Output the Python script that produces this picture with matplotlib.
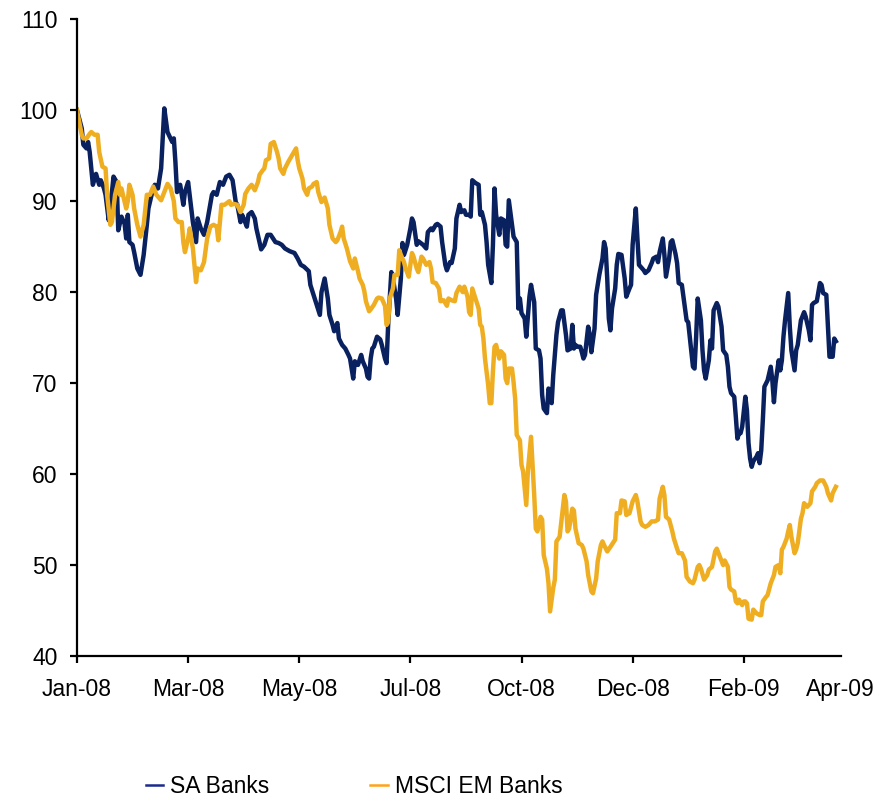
import matplotlib
matplotlib.use("Agg")
import matplotlib.pyplot as plt
from matplotlib.lines import Line2D
import pandas as pd

# Index levels rebased to 100 on 1 Jan 2008; dates given as days since that start
start = pd.Timestamp("2008-01-01")

sa_days = [0, 3, 4, 6, 7, 8, 10, 12, 14, 15, 17, 18, 20, 21, 23, 25, 26, 28, 30, 31,
           32, 33, 35, 36, 38, 40, 42, 44, 45, 47, 49, 51, 53, 55, 57, 60, 61, 62, 63, 65,
           67, 68, 70, 72, 73, 75, 76, 78, 80, 82, 85, 86, 88, 90, 92, 94, 96, 98, 100, 101,
           103, 104, 105, 107, 108, 110, 112, 113, 115, 116, 118, 120, 122, 125, 127, 129, 131, 134, 137, 139,
           141, 143, 146, 147, 149, 151, 153, 154, 156, 158, 159, 161, 162, 164, 165, 167, 169, 171, 172, 174,
           175, 177, 179, 180, 182, 183, 184, 185, 186, 187, 189, 191, 192, 194, 195, 196, 198, 199, 201, 202,
           204, 205, 206, 208, 210, 211, 212, 214, 215, 218, 220, 221, 223, 224, 226, 227, 229, 230, 232, 233,
           235, 236, 238, 239, 241, 242, 244, 245, 247, 248, 249, 251, 253, 254, 255, 257, 258, 259, 261, 262,
           263, 264, 266, 267, 269, 270, 271, 272, 274, 275, 277, 278, 279, 280, 282, 283, 285, 286, 288, 289,
           291, 292, 293, 294, 296, 297, 298, 299, 300, 302, 303, 305, 306, 308, 309, 311, 312, 313, 314, 315,
           317, 318, 319, 320, 322, 323, 324, 326, 327, 329, 331, 332, 333, 334, 335, 336, 337, 339, 340, 341,
           343, 345, 346, 348, 349, 350, 352, 353, 354, 355, 357, 358, 360, 362, 363, 365, 366, 367, 369, 370,
           371, 373, 374, 375, 377, 378, 379, 381, 384, 385, 386, 388, 389, 390, 391, 393, 394, 395, 396, 398,
           399, 400, 401, 403, 404, 406, 407, 409, 410, 411, 412, 414, 415, 416, 417, 418, 419, 421, 422, 423,
           424, 425, 426, 428, 429, 430, 431, 432, 433, 435, 437, 438, 439, 440, 442, 443, 444, 445, 446, 448,
           449, 450, 452, 453, 454, 456, 458, 459, 461, 462, 463, 464, 466, 468, 469, 470, 472, 473, 474, 476,
           477, 478]
sa_banks = [100.0, 98.0, 96.2, 95.8, 96.5, 95.4, 91.8, 93.0, 91.8, 92.3, 91.4, 90.7, 87.9, 89.2, 92.7, 92.1, 86.8, 88.3, 87.5, 85.9,
            88.5, 85.5, 85.2, 84.4, 82.6, 81.9, 84.1, 87.4, 89.2, 90.7, 91.8, 91.4, 93.6, 100.2, 97.6, 96.5, 96.9, 94.3, 91.0, 91.8,
            89.6, 91.0, 92.1, 89.2, 87.7, 85.5, 88.1, 87.0, 86.3, 87.7, 90.7, 91.0, 90.7, 92.1, 91.8, 92.7, 92.9, 92.3, 89.9, 89.6,
            87.7, 88.5, 88.1, 87.2, 88.5, 88.8, 88.1, 87.0, 85.5, 84.7, 85.2, 86.3, 86.3, 85.5, 85.4, 85.2, 84.8, 84.5, 84.3, 83.7,
            83.0, 82.8, 82.3, 80.8, 79.7, 78.6, 77.5, 80.0, 81.5, 79.3, 77.5, 76.4, 75.7, 76.6, 74.9, 74.2, 73.8, 73.1, 72.7, 70.5,
            72.4, 72.0, 73.1, 72.4, 71.6, 70.7, 70.5, 72.7, 73.8, 74.0, 75.1, 74.8, 74.2, 72.7, 72.2, 76.4, 82.2, 81.5, 79.3, 77.5,
            81.5, 85.4, 84.1, 85.2, 87.0, 88.1, 87.7, 85.2, 85.6, 85.2, 84.8, 86.6, 87.0, 86.8, 87.4, 87.5, 87.2, 85.5, 83.0, 82.4,
            83.3, 83.2, 84.8, 88.1, 89.6, 88.8, 89.0, 88.5, 88.5, 88.3, 92.3, 92.0, 91.8, 88.5, 88.8, 87.4, 85.5, 83.0, 81.0, 85.2,
            91.4, 88.5, 86.3, 88.1, 87.9, 85.2, 85.0, 90.1, 87.4, 86.1, 85.5, 78.2, 79.3, 77.7, 77.1, 75.1, 79.5, 80.8, 78.9, 73.8,
            73.6, 72.7, 68.7, 67.2, 66.7, 69.4, 69.0, 67.8, 70.9, 75.3, 76.7, 78.0, 78.0, 75.3, 73.6, 73.8, 76.4, 73.8, 74.2, 74.0,
            74.0, 73.4, 72.7, 73.1, 76.2, 75.3, 73.4, 76.0, 79.7, 81.9, 83.7, 85.5, 84.8, 81.5, 77.1, 75.8, 78.2, 80.4, 83.0, 84.2,
            84.1, 81.5, 79.5, 80.4, 80.8, 85.2, 89.2, 85.9, 83.0, 82.8, 82.4, 82.1, 82.4, 83.2, 83.7, 83.9, 83.3, 84.4, 85.9, 84.1,
            81.7, 83.7, 85.5, 85.7, 84.2, 83.2, 81.0, 80.8, 76.9, 76.7, 75.1, 71.8, 71.6, 75.1, 79.3, 76.9, 73.6, 71.4, 70.5, 72.5,
            74.7, 73.8, 78.0, 78.8, 78.4, 76.2, 73.6, 73.1, 71.8, 69.6, 68.9, 68.5, 66.3, 63.9, 64.5, 64.5, 65.2, 68.5, 67.0, 63.4,
            61.7, 60.8, 61.4, 61.9, 62.3, 61.2, 62.6, 65.9, 69.6, 70.3, 71.8, 70.3, 67.9, 70.0, 72.5, 71.4, 72.5, 75.1, 76.9, 79.9,
            76.2, 73.6, 71.4, 73.6, 74.2, 76.9, 77.8, 77.3, 75.8, 74.7, 78.6, 78.8, 79.0, 81.0, 80.8, 79.9, 79.7, 76.2, 72.9, 72.9,
            74.9, 74.6]

em_days = [0, 3, 4, 6, 8, 9, 11, 13, 14, 16, 18, 19, 21, 22, 24, 26, 27, 28, 31, 32,
           33, 35, 36, 38, 40, 42, 44, 46, 48, 50, 53, 55, 57, 59, 61, 62, 64, 66, 67, 68,
           70, 71, 73, 75, 76, 78, 80, 82, 84, 86, 88, 89, 91, 93, 96, 97, 99, 101, 103, 105,
           106, 108, 110, 112, 114, 115, 117, 118, 119, 121, 122, 124, 126, 127, 128, 130, 131, 133, 135, 136,
           138, 139, 140, 142, 143, 145, 146, 148, 149, 151, 152, 154, 156, 158, 159, 161, 163, 164, 166, 167,
           168, 170, 171, 172, 174, 175, 177, 178, 180, 181, 182, 184, 185, 187, 189, 190, 192, 194, 195, 196,
           197, 199, 200, 202, 203, 204, 206, 207, 209, 211, 212, 214, 215, 217, 218, 220, 222, 223, 224, 226,
           228, 229, 231, 233, 234, 236, 238, 239, 241, 243, 244, 246, 247, 248, 249, 251, 253, 254, 255, 256,
           257, 259, 260, 261, 262, 263, 264, 266, 267, 269, 270, 271, 272, 274, 275, 276, 277, 279, 280, 281,
           283, 284, 286, 287, 288, 289, 290, 292, 293, 294, 296, 297, 298, 300, 301, 302, 304, 306, 307, 308,
           309, 310, 312, 313, 314, 316, 318, 319, 321, 322, 324, 325, 327, 328, 330, 331, 332, 334, 336, 339,
           340, 342, 343, 345, 346, 348, 350, 352, 353, 355, 356, 358, 360, 362, 364, 366, 367, 369, 370, 371,
           373, 375, 376, 378, 379, 381, 383, 384, 386, 388, 389, 391, 392, 393, 395, 397, 398, 400, 402, 403,
           405, 407, 408, 410, 411, 412, 414, 415, 416, 417, 419, 420, 421, 422, 423, 425, 426, 427, 428, 430,
           431, 432, 434, 435, 437, 439, 440, 442, 443, 444, 445, 447, 448, 449, 450, 452, 453, 454, 456, 457,
           458, 460, 462, 463, 465, 466, 468, 470, 472, 473, 475, 476, 478]
msci_em_banks = [100.0, 97.3, 96.9, 96.9, 97.4, 97.6, 97.3, 97.3, 95.4, 93.8, 93.6, 90.7, 87.4, 87.7, 90.7, 92.1, 90.7, 91.4, 89.2, 90.0,
                 91.8, 90.7, 89.2, 87.4, 86.1, 87.4, 90.7, 90.7, 91.6, 90.7, 90.1, 91.0, 91.9, 91.4, 90.0, 88.1, 87.7, 87.7, 85.5, 84.4,
                 85.9, 87.0, 84.8, 81.1, 82.6, 82.4, 83.3, 85.9, 87.2, 87.4, 87.2, 85.7, 89.6, 89.6, 90.0, 89.6, 89.7, 89.6, 88.8, 89.6,
                 90.8, 91.4, 91.8, 91.2, 92.1, 92.9, 93.4, 93.6, 94.5, 94.7, 96.3, 96.5, 95.4, 94.7, 93.6, 93.0, 93.6, 94.3, 94.9, 95.2,
                 95.8, 94.5, 93.6, 92.5, 91.4, 90.7, 91.4, 91.6, 91.9, 92.1, 91.0, 89.9, 90.4, 89.2, 87.4, 85.9, 85.5, 85.7, 86.6, 87.2,
                 85.9, 84.8, 84.1, 83.4, 82.6, 83.7, 82.3, 81.5, 80.8, 80.1, 79.0, 77.9, 78.1, 78.6, 79.3, 79.4, 79.3, 78.5, 76.4, 76.7,
                 79.3, 80.4, 81.9, 81.9, 84.6, 84.1, 83.3, 82.6, 81.7, 84.3, 83.9, 82.6, 82.2, 83.9, 83.7, 83.0, 83.3, 82.6, 81.1, 81.0,
                 80.4, 79.0, 79.1, 78.5, 79.3, 79.1, 79.0, 79.9, 80.6, 80.0, 80.6, 79.5, 77.8, 77.5, 80.4, 79.3, 78.2, 76.4, 76.2, 74.9,
                 72.7, 69.8, 67.8, 67.8, 71.3, 74.0, 74.2, 72.7, 73.5, 73.1, 70.5, 70.0, 71.6, 71.6, 70.1, 68.3, 64.3, 63.7, 61.0, 60.3,
                 56.6, 60.3, 64.1, 61.0, 57.7, 54.0, 53.7, 55.3, 55.0, 51.1, 49.6, 48.0, 44.9, 47.5, 48.4, 52.6, 53.1, 56.2, 57.7, 57.0,
                 53.7, 54.0, 56.2, 56.0, 54.0, 52.4, 52.2, 51.8, 50.4, 48.9, 47.1, 46.9, 48.5, 50.4, 52.2, 52.6, 52.2, 51.5, 52.0, 52.8,
                 55.7, 55.7, 57.1, 57.0, 55.5, 55.7, 57.0, 57.7, 57.0, 54.8, 54.4, 54.2, 54.4, 54.8, 54.8, 55.0, 57.3, 58.6, 57.7, 55.3,
                 55.0, 53.7, 52.9, 51.8, 51.3, 51.3, 50.5, 48.7, 48.2, 48.0, 48.4, 49.8, 50.0, 49.6, 48.4, 48.9, 49.5, 49.8, 51.5, 51.8,
                 50.9, 50.0, 50.5, 49.8, 47.6, 47.3, 47.1, 46.0, 45.8, 46.2, 45.6, 46.0, 46.0, 45.8, 44.1, 44.0, 45.1, 44.9, 44.7, 44.5,
                 44.5, 46.0, 46.5, 46.7, 48.0, 48.9, 49.8, 50.0, 49.1, 51.7, 52.0, 52.9, 53.7, 54.4, 53.1, 51.3, 51.7, 52.4, 55.1, 55.7,
                 56.8, 56.4, 56.8, 58.1, 58.6, 59.0, 59.3, 59.3, 58.6, 57.9, 57.1, 57.9, 58.6]

tick_dates = ["2008-01-01", "2008-03-11", "2008-05-20", "2008-07-29",
              "2008-10-07", "2008-12-16", "2009-02-24", "2009-04-26"]
tick_labels = ["Jan-08", "Mar-08", "May-08", "Jul-08", "Oct-08", "Dec-08", "Feb-09", "Apr-09"]
y_ticks = [40, 50, 60, 70, 80, 90, 100, 110]

NAVY = "#0A2160"
GOLD = "#EFAE22"

plt.rcParams["font.family"] = ["Liberation Sans", "DejaVu Sans"]

fig = plt.figure(figsize=(8.90, 8.01), dpi=100)
ax = fig.add_axes([0.0865, 0.181, 0.858, 0.795])

sa_dates = start + pd.to_timedelta(sa_days, unit="D")
em_dates = start + pd.to_timedelta(em_days, unit="D")

ax.plot(sa_dates, sa_banks, color=NAVY, lw=3.2, solid_joinstyle="round")
ax.plot(em_dates, msci_em_banks, color=GOLD, lw=3.2, solid_joinstyle="round")

xt = pd.to_datetime(tick_dates)
ax.set_xlim(xt[0], xt[-1])
ax.set_ylim(y_ticks[0], y_ticks[-1])
ax.set_xticks(xt)
ax.set_xticklabels(tick_labels)
ax.set_yticks(y_ticks)

for side in ("top", "right"):
    ax.spines[side].set_visible(False)
for side in ("left", "bottom"):
    ax.spines[side].set_linewidth(1.6)
    ax.spines[side].set_color("black")

ax.tick_params(axis="both", direction="out", length=5, width=1.6,
               labelsize=16.5, colors="black")
ax.tick_params(axis="x", pad=11)
ax.tick_params(axis="y", pad=9)
ax.xaxis.get_major_ticks()[-1].tick1line.set_visible(False)

handles = [Line2D([], [], color="#1B2A8C", lw=1.8),
           Line2D([], [], color="#FFA31A", lw=1.8)]
fig.legend(handles, ["SA Banks", "MSCI EM Banks"], loc="center",
           bbox_to_anchor=(0.398, 0.018), ncol=2, frameon=False, fontsize=16.5,
           handlelength=0.75, handletextpad=0.3, columnspacing=4.4)

fig.savefig("out.png", dpi=100)
